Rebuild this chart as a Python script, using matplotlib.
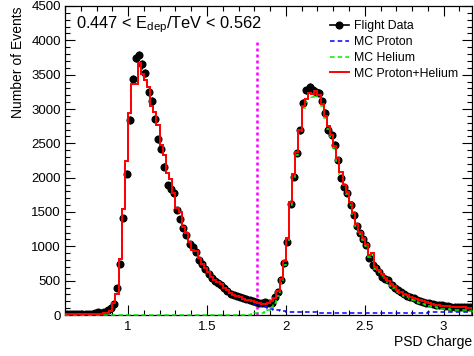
import numpy as np
import matplotlib
matplotlib.use('Agg')
from matplotlib import pyplot as plt
from matplotlib.lines import Line2D
from matplotlib.ticker import MultipleLocator, FuncFormatter

plt.rcParams['font.family'] = ['Liberation Sans', 'DejaVu Sans']
plt.rcParams['mathtext.fontset'] = 'custom'
plt.rcParams['mathtext.rm'] = 'Liberation Sans'
plt.rcParams['mathtext.it'] = 'Liberation Sans:italic'

# PSD charge binning (0.02 wide bins from 0.60 to 3.18)
bin_edges = np.round(np.linspace(0.60, 3.18, 130), 2)

# flight data counts per bin
flight_data = [
    12, 15, 10, 14, 12, 16, 13, 17, 20, 24,
    45, 32, 48, 70, 100, 160, 390, 740, 1410, 2060,
    2840, 3430, 3740, 3790, 3650, 3520, 3250, 3120, 2860, 2560,
    2420, 2160, 1900, 1830, 1780, 1530, 1400, 1270, 1160, 1040,
    990, 920, 800, 740, 670, 600, 540, 500, 460, 430,
    400, 350, 310, 285, 270, 255, 243, 232, 222, 208,
    190, 178, 170, 190, 180, 175, 260, 340, 510, 760,
    1070, 1620, 2010, 2360, 2690, 3090, 3270, 3320, 3270, 3250,
    3230, 3110, 2940, 2700, 2620, 2480, 2260, 2000, 1870, 1770,
    1600, 1460, 1290, 1190, 1100, 1020, 830, 730, 680, 630,
    560, 530, 510, 440, 400, 365, 330, 300, 270, 255,
    243, 225, 208, 190, 180, 170, 160, 152, 146, 140,
    135, 130, 122, 121, 120, 118, 115, 112, 110]

# MC proton expectation per bin
mc_proton = [
    10, 10, 10, 10, 10, 10, 10, 11, 12, 14,
    16, 20, 25, 35, 60, 170, 300, 820, 1550, 2250,
    2940, 3360, 3370, 3670, 3510, 3420, 3320, 3050, 2960, 2770,
    2480, 2330, 2070, 1980, 1780, 1560, 1500, 1280, 1200, 1060,
    950, 930, 830, 740, 690, 620, 560, 510, 480, 450,
    390, 370, 320, 295, 270, 258, 237, 221, 209, 197,
    165, 150, 135, 118, 102, 90, 78, 68, 60, 55,
    50, 48, 45, 44, 42, 42, 40, 40, 38, 38,
    36, 36, 35, 35, 34, 34, 33, 33, 32, 32,
    31, 31, 30, 30, 30, 30, 30, 30, 30, 30,
    30, 32, 32, 30, 30, 30, 31, 30, 30, 30,
    30, 32, 33, 35, 36, 37, 38, 40, 40, 40,
    42, 42, 42, 42, 42, 42, 42, 42, 42]

# MC helium expectation per bin
mc_helium = [
    0, 0, 0, 0, 0, 0, 0, 0, 0, 0,
    0, 0, 0, 0, 0, 0, 0, 0, 0, 0,
    0, 0, 0, 0, 0, 0, 0, 0, 0, 0,
    0, 0, 0, 0, 0, 0, 0, 0, 0, 0,
    0, 0, 0, 0, 0, 0, 0, 0, 0, 0,
    0, 0, 0, 0, 0, 2, 3, 4, 6, 8,
    25, 25, 30, 47, 73, 110, 172, 282, 460, 725,
    1070, 1602, 2005, 2336, 2658, 3008, 3100, 3190, 3182, 3222,
    3164, 3044, 2865, 2715, 2586, 2426, 2247, 2047, 1868, 1758,
    1609, 1449, 1300, 1180, 1090, 1010, 850, 870, 670, 630,
    570, 510, 470, 420, 390, 340, 310, 280, 255, 230,
    215, 195, 180, 165, 150, 133, 120, 112, 100, 92,
    86, 83, 78, 76, 73, 70, 68, 66, 63]

charge_cut = 1.815
cut_top = 4000
energy_label = r'0.447 < E$_{\rm dep}$/TeV < 0.562'

centers = 0.5 * (bin_edges[1:] + bin_edges[:-1])
half_width = 0.5 * np.diff(bin_edges)
data = np.array(flight_data, dtype=float)
proton = np.array(mc_proton, dtype=float)
helium = np.array(mc_helium, dtype=float)
total = proton + helium

fig = plt.figure(figsize=(4.74, 3.56), dpi=100)
ax = fig.add_axes([65 / 474., 1 - 315 / 356., (472 - 65) / 474., (315 - 6) / 356.])

ax.errorbar(centers, data, yerr=np.sqrt(data), xerr=half_width, fmt='o', color='black',
            markersize=4.8, elinewidth=1.0, capsize=0, zorder=2)
ax.stairs(proton, bin_edges, color='blue', linestyle=(0, (3, 2)), linewidth=1.1, zorder=3)
ax.stairs(helium, bin_edges, color='#00ee00', linestyle=(0, (3, 2)), linewidth=1.1,
          zorder=3, clip_on=False)
ax.stairs(total, bin_edges, color='red', linewidth=1.4, zorder=4)

ax.vlines(charge_cut, 0, cut_top, colors='#ff00ff', linestyles=(0, (1.2, 1.2)), linewidth=1.8, zorder=1)

ax.set_xlim(bin_edges[0], bin_edges[-1])
ax.set_ylim(0, 4500)

ax.xaxis.set_major_locator(MultipleLocator(0.5))
ax.xaxis.set_minor_locator(MultipleLocator(0.1))
ax.yaxis.set_major_locator(MultipleLocator(500))
ax.yaxis.set_minor_locator(MultipleLocator(100))
ax.xaxis.set_major_formatter(FuncFormatter(lambda v, p: '%g' % v))
ax.tick_params(which='both', direction='in', top=True, right=True, labelsize=9.5, width=0.8)
ax.tick_params(which='major', length=7)
ax.tick_params(which='minor', length=3.5)
ax.tick_params(axis='x', pad=4)
ax.tick_params(axis='y', pad=3)
for spine in ax.spines.values():
  spine.set_linewidth(0.9)

ax.set_xlabel('PSD Charge', loc='right', fontsize=10)
ax.xaxis.set_label_coords(1.0, -0.065)
ax.set_ylabel('Number of Events', loc='top', fontsize=10)
ax.yaxis.set_label_coords(-0.098, 1.0)

fig.text(76 / 474., 1 - 25 / 356., energy_label, fontsize=11.8, va='center', ha='left')

# legend entries in the same order as the reference
handles = [Line2D([], [], color='black', marker='o', markersize=4.8, linewidth=1.2),
           Line2D([], [], color='blue', linestyle=(0, (3, 2)), linewidth=1.1),
           Line2D([], [], color='#00ee00', linestyle=(0, (3, 2)), linewidth=1.1),
           Line2D([], [], color='red', linewidth=1.4)]
labels = ['Flight Data', 'MC Proton', 'MC Helium', 'MC Proton+Helium']
ax.legend(handles, labels, loc='upper left', bbox_to_anchor=(330 / 474., 1 - 20 / 356.),
          bbox_transform=fig.transFigure, frameon=False, fontsize=8.8,
          handlelength=1.55, handletextpad=0.45, labelspacing=0.32,
          borderpad=0, borderaxespad=0)

fig.savefig('out.png', dpi=100)
